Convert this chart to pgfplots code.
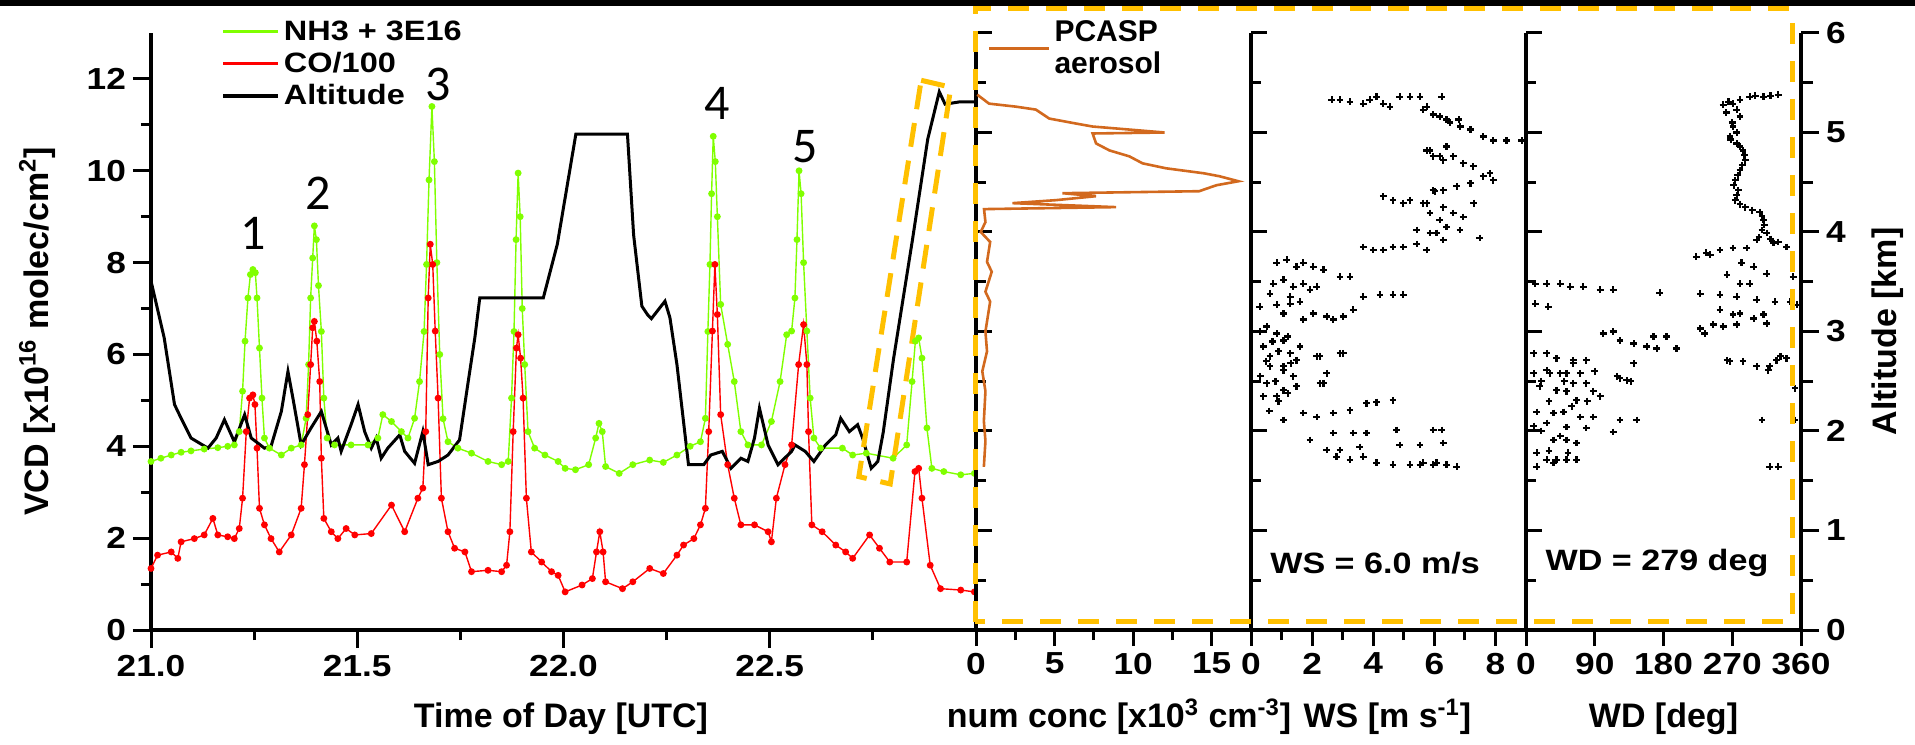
\documentclass[border=0pt]{standalone}
\usepackage{pgfplots}
\pgfplotsset{compat=1.18}
\usepackage{fontspec}
\setmainfont{Liberation Sans}
\newfontfamily\wideSans{Liberation Sans}[FakeStretch=1.16]
\newfontfamily\calib{Carlito}
\definecolor{nhgreen}{RGB}{128,255,0}
\definecolor{cored}{RGB}{255,0,0}
\definecolor{pcasp}{RGB}{210,105,30}
\definecolor{dashor}{RGB}{255,192,0}
\newcommand\tickfont{\wideSans\fontsize{15.2}{18}\selectfont\bfseries}
\newcommand\labfont{\fontsize{17}{20}\selectfont\bfseries}
\pgfplotsset{
  panel/.style={
    scale only axis, height=298.5pt, ymin=0,
    axis x line*=bottom, axis y line*=left,
    axis line style={line width=1.8pt},
    every tick/.style={black, line width=1.5pt},
    xtick align=outside,
    tick label style={font=\tickfont},
    /pgf/number format/assume math mode=true,
  },
  profile/.style={panel, width=137.5pt, ymax=6,
    ytick={0,...,6}, minor ytick={0.5,1.5,...,5.5}, yticklabels={},
    ytick align=inside, major tick length=8pt, minor tick length=5pt,
    every axis x label/.style={at={(axis description cs:0.5,-0.164)}, anchor=base, font=\labfont},
  },
}
\begin{document}
\begin{tikzpicture}
\path[use as bounding box] (0pt,0pt) rectangle (957.5pt,372pt);
\fill[black] (0pt,369.2pt) rectangle (957.5pt,372pt);
% ---------------- time series ----------------
\begin{axis}[panel, at={(75.5pt,57pt)}, anchor=south west, width=412.5pt,
  xmin=21, xmax=23, ymax=13,
  xtick={21,21.5,22,22.5}, xticklabels={21.0,21.5,22.0,22.5},
  minor xtick={21.25,21.75,22.25,22.75},
  ytick={0,2,...,12}, minor ytick={1,3,...,11},
  ytick align=outside, major tick length=9pt, minor tick length=5pt,
  xlabel={Time of Day [UTC]},
  ylabel={VCD [x10\textsuperscript{16} molec/cm\textsuperscript{2}]},
  every axis x label/.style={at={(axis description cs:0.497,-0.164)}, anchor=base, font=\labfont},
  every axis y label/.style={at={(axis description cs:-0.138,0.5)}, rotate=90, anchor=center, font=\labfont},
  clip=false,
  legend style={at={(axis description cs:0.078,1.035)}, anchor=north west, draw=none, fill=none,
    font=\wideSans\fontsize{14}{16}\selectfont\bfseries, row sep=0.5pt},
  legend cell align=left,
  legend image code/.code={\draw[#1, line width=1.6pt] (0pt,0pt) -- (27.5pt,0pt);},
]
\addplot[color=nhgreen, line width=0.7pt, mark=*, mark size=1.35pt] table {
t v
21.000 3.67
21.024 3.74
21.049 3.81
21.073 3.87
21.097 3.90
21.129 3.94
21.162 3.97
21.186 4.00
21.202 4.03
21.214 4.32
21.222 5.20
21.228 6.29
21.235 7.23
21.241 7.74
21.247 7.85
21.253 7.78
21.257 7.23
21.263 6.14
21.269 5.05
21.275 4.18
21.287 3.96
21.316 3.81
21.340 3.96
21.364 4.03
21.376 4.61
21.382 5.78
21.387 7.23
21.392 8.10
21.396 8.80
21.401 8.50
21.406 7.50
21.413 6.50
21.419 5.05
21.427 4.18
21.445 4.03
21.485 4.03
21.526 4.03
21.550 4.18
21.562 4.69
21.583 4.54
21.607 4.32
21.623 4.18
21.639 4.61
21.651 5.41
21.662 6.50
21.668 7.96
21.674 9.80
21.681 11.40
21.687 10.20
21.693 8.00
21.700 6.00
21.708 4.60
21.720 4.10
21.744 3.96
21.777 3.85
21.817 3.67
21.850 3.60
21.866 3.67
21.874 5.05
21.880 6.50
21.885 8.50
21.890 9.95
21.895 9.00
21.900 7.00
21.906 5.78
21.914 4.32
21.930 3.96
21.955 3.81
21.987 3.67
22.004 3.52
22.029 3.49
22.061 3.60
22.078 4.18
22.086 4.50
22.094 4.32
22.102 3.56
22.135 3.41
22.168 3.60
22.209 3.70
22.242 3.65
22.275 3.81
22.307 4.00
22.332 4.10
22.344 4.61
22.350 6.50
22.355 7.96
22.359 9.50
22.363 10.75
22.368 10.20
22.373 9.00
22.381 7.09
22.398 6.22
22.414 5.41
22.430 4.32
22.447 4.03
22.480 4.03
22.504 4.54
22.525 5.41
22.541 6.43
22.553 6.51
22.561 7.23
22.566 8.50
22.571 10.00
22.576 9.50
22.582 8.00
22.590 6.51
22.598 5.05
22.607 4.18
22.623 3.96
22.676 3.96
22.701 3.81
22.734 3.85
22.799 3.74
22.832 4.03
22.845 5.41
22.853 6.29
22.861 6.36
22.869 5.92
22.881 4.40
22.893 3.52
22.922 3.45
22.963 3.38
22.996 3.41
};
\addlegendentry{NH3 + 3E16}
\addplot[color=cored, line width=0.7pt, mark=*, mark size=1.35pt] table {
t v
21.000 1.34
21.016 1.63
21.049 1.70
21.065 1.56
21.073 1.92
21.105 1.99
21.129 2.07
21.150 2.43
21.162 2.07
21.186 2.03
21.202 1.99
21.214 2.21
21.222 2.87
21.231 4.32
21.239 5.05
21.247 5.12
21.252 4.91
21.257 3.96
21.263 2.65
21.275 2.29
21.291 1.99
21.311 1.70
21.340 2.07
21.364 2.65
21.372 3.60
21.380 4.69
21.387 5.78
21.392 6.58
21.396 6.72
21.402 6.29
21.409 5.41
21.413 3.74
21.419 2.43
21.437 2.14
21.453 1.99
21.473 2.21
21.494 2.07
21.534 2.10
21.583 2.72
21.615 2.14
21.647 2.87
21.659 3.09
21.666 4.32
21.672 7.23
21.677 8.40
21.683 7.96
21.689 6.51
21.696 5.05
21.704 2.87
21.720 2.14
21.736 1.78
21.761 1.70
21.777 1.27
21.817 1.30
21.850 1.27
21.862 1.41
21.870 2.14
21.878 4.32
21.886 6.14
21.890 6.43
21.896 5.92
21.902 5.05
21.910 2.87
21.922 1.70
21.947 1.48
21.971 1.27
21.987 1.19
22.004 0.83
22.045 0.98
22.070 1.12
22.080 1.70
22.088 2.14
22.096 1.70
22.102 1.05
22.143 0.90
22.168 1.05
22.209 1.34
22.242 1.23
22.275 1.63
22.291 1.85
22.316 1.99
22.332 2.29
22.344 2.65
22.352 4.32
22.361 6.51
22.367 7.96
22.373 6.87
22.381 4.69
22.398 3.60
22.414 2.87
22.430 2.29
22.463 2.29
22.496 2.14
22.504 1.92
22.516 2.87
22.537 3.60
22.553 4.03
22.570 5.78
22.582 6.65
22.590 5.78
22.594 4.32
22.602 2.29
22.627 2.14
22.660 1.85
22.684 1.70
22.701 1.56
22.742 2.07
22.766 1.78
22.791 1.48
22.832 1.48
22.852 3.45
22.861 3.52
22.869 2.87
22.889 1.41
22.914 0.90
22.963 0.87
22.996 0.83
};
\addlegendentry{CO/100}
\addplot[color=black, line width=1.5pt] table {
t v
21.000 7.60
21.032 6.36
21.057 4.91
21.073 4.61
21.097 4.18
21.138 3.96
21.158 4.18
21.178 4.58
21.202 4.10
21.227 4.69
21.243 4.18
21.275 3.96
21.291 4.00
21.316 4.76
21.332 5.63
21.344 5.05
21.364 4.03
21.388 4.40
21.413 4.76
21.437 4.03
21.453 4.18
21.461 3.89
21.485 4.47
21.502 4.91
21.518 4.32
21.534 3.96
21.546 4.18
21.558 3.74
21.574 3.96
21.603 4.25
21.615 3.89
21.639 3.63
21.659 4.32
21.672 3.60
21.696 3.67
21.720 3.81
21.748 4.14
21.769 5.41
21.785 6.36
21.797 7.23
21.951 7.23
21.985 8.40
22.030 10.80
22.155 10.80
22.170 8.60
22.190 7.05
22.205 6.85
22.213 6.78
22.246 7.16
22.258 6.80
22.275 5.78
22.303 3.60
22.340 3.60
22.357 3.81
22.385 3.89
22.406 3.52
22.430 3.74
22.447 3.67
22.463 4.18
22.475 4.83
22.496 4.03
22.520 3.60
22.553 3.89
22.561 4.03
22.586 3.89
22.607 3.67
22.635 4.03
22.660 4.25
22.672 4.61
22.693 4.32
22.713 4.47
22.725 4.18
22.746 3.52
22.762 3.67
22.775 4.30
22.800 5.90
22.846 8.50
22.883 10.69
22.911 11.72
22.925 11.45
22.960 11.50
23.000 11.50
};
\addlegendentry{Altitude}
\node[font=\calib\fontsize{25}{25}\selectfont] at (axis cs:21.248,8.64) {1};
\node[font=\calib\fontsize{25}{25}\selectfont] at (axis cs:21.405,9.52) {2};
\node[font=\calib\fontsize{25}{25}\selectfont] at (axis cs:21.696,11.87) {3};
\node[font=\calib\fontsize{25}{25}\selectfont] at (axis cs:22.373,11.46) {4};
\node[font=\calib\fontsize{25}{25}\selectfont] at (axis cs:22.585,10.52) {5};
\draw[dashor, line width=2.5pt, dash pattern=on 12pt off 7pt]
  (axis cs:22.867,11.97) -- (axis cs:22.939,11.82) -- (axis cs:22.792,3.18) -- (axis cs:22.716,3.34) -- cycle;
\end{axis}
% ---------------- PCASP ----------------
\begin{axis}[profile, at={(488pt,57pt)}, anchor=south west,
  xmin=0, xmax=17.5, xtick={0,5,10,15}, minor xtick={2.5,7.5,12.5},
  xlabel={num conc [x10\textsuperscript{3} cm\textsuperscript{-3}]},
  every axis x label/.style={at={(axis description cs:0.52,-0.164)}, anchor=base, font=\labfont},
  legend style={at={(axis description cs:0.02,1.035)}, anchor=north west, draw=none, fill=none,
    font=\fontsize{15}{16}\selectfont\bfseries, cells={align=left}},
  legend image code/.code={\draw[#1] (0pt,0pt) -- (30pt,0pt);},
]
\addplot[color=pcasp, line width=1.3pt] table {
c a
0.08 5.38
0.83 5.29
2.53 5.26
3.81 5.23
4.66 5.14
6.36 5.09
7.42 5.06
12.0 5.00
7.42 4.99
7.64 4.89
8.49 4.82
9.76 4.76
10.6 4.69
12.1 4.64
14.5 4.59
15.5 4.56
16.7 4.51
15.3 4.47
14.2 4.41
5.5 4.39
7.64 4.36
5.08 4.32
2.32 4.29
8.91 4.25
0.51 4.23
0.6 4.10
0.3 4.00
0.9 3.90
0.7 3.70
1.0 3.60
0.6 3.40
0.9 3.30
0.6 3.00
0.7 2.80
0.4 2.60
0.6 2.40
0.5 2.10
0.6 1.90
0.5 1.64
};
\addlegendentry{PCASP\\aerosol}
\end{axis}
% ---------------- WS ----------------
\begin{axis}[profile, at={(625.5pt,57pt)}, anchor=south west,
  xmin=0, xmax=9, xtick={0,2,4,6,8}, minor xtick={1,3,5,7},
  xlabel={WS [m s\textsuperscript{-1}]},
  every axis x label/.style={at={(axis description cs:0.496,-0.164)}, anchor=base, font=\labfont},
]
\addplot[only marks, mark=+, mark size=1.7pt, mark options={line width=1.1pt}, black] table {
w a
2.64 5.33
2.91 5.33
3.24 5.31
3.67 5.29
3.89 5.33
4.11 5.36
4.33 5.29
4.55 5.26
4.87 5.36
5.20 5.36
5.53 5.36
6.24 5.36
5.64 5.23
5.75 5.26
5.96 5.18
6.18 5.16
6.40 5.13
6.51 5.10
6.80 5.13
6.85 5.06
7.18 5.03
7.60 4.96
7.93 4.92
8.36 4.92
8.86 4.92
5.75 4.82
5.86 4.82
5.96 4.76
6.18 4.76
6.29 4.72
6.40 4.86
6.62 4.76
6.95 4.69
7.27 4.66
7.60 4.56
7.82 4.59
7.93 4.52
7.18 4.49
6.73 4.46
6.02 4.41
5.96 4.42
6.29 4.42
4.33 4.36
4.65 4.32
4.98 4.29
5.20 4.32
5.64 4.29
5.75 4.29
6.29 4.25
6.62 4.19
6.95 4.15
7.29 4.29
5.86 4.19
6.18 4.12
6.40 4.05
6.07 3.99
6.84 4.02
7.49 3.94
5.42 4.02
5.86 3.99
6.29 3.92
3.67 3.85
4.00 3.82
4.33 3.82
4.65 3.85
4.98 3.85
5.42 3.88
5.75 3.82
0.84 3.69
1.17 3.72
1.49 3.65
1.71 3.69
2.04 3.65
2.37 3.62
0.73 3.48
1.06 3.52
1.38 3.45
1.71 3.48
2.15 3.45
0.62 3.38
1.28 3.35
1.93 3.42
2.91 3.55
3.24 3.55
3.67 3.35
4.22 3.37
4.65 3.37
4.98 3.37
0.29 3.25
0.84 3.27
1.28 3.28
1.60 3.30
2.04 3.18
2.48 3.15
2.69 3.12
3.02 3.15
3.35 3.22
1.06 3.18
1.71 3.12
0.51 3.05
0.84 2.98
1.06 2.91
0.40 2.85
1.28 2.78
1.60 2.85
0.62 2.65
1.06 2.61
1.49 2.71
2.15 2.75
2.91 2.78
0.51 2.48
1.06 2.41
1.49 2.45
2.37 2.48
0.84 2.35
0.62 2.75
1.06 2.65
1.38 2.55
0.40 2.35
2.26 2.48
1.71 2.18
2.15 2.14
2.69 2.18
3.24 2.21
3.78 2.28
4.11 2.29
4.65 2.31
1.06 2.11
1.93 1.91
2.48 1.81
2.80 1.74
3.24 1.71
3.67 1.74
4.11 1.68
4.65 1.66
5.20 1.66
5.64 1.68
6.07 1.68
2.69 1.98
3.35 1.98
3.78 1.98
4.76 2.01
4.87 1.86
5.53 1.86
5.96 2.01
3.56 1.84
2.91 1.81
5.53 1.66
5.96 1.66
6.40 1.66
6.73 1.64
6.24 2.01
6.29 1.88
2.26 2.75
2.48 2.58
3.02 2.78
0.30 3.00
0.70 2.90
1.20 2.95
0.50 2.70
0.90 2.80
1.30 2.68
0.30 2.55
0.80 2.50
1.20 2.38
0.60 2.20
0.90 2.30
};
\node[font=\wideSans\fontsize{14.7}{16}\selectfont\bfseries] at (axis cs:4.06,0.67) {WS = 6.0 m/s};
\end{axis}
% ---------------- WD ----------------
\begin{axis}[profile, at={(763pt,57pt)}, anchor=south west,
  xmin=0, xmax=360, xtick={0,90,180,270,360},
  xlabel={WD [deg]},
]
\addplot[only marks, mark=+, mark size=1.7pt, mark options={line width=1.1pt}, black] table {
d a
330 5.38
311 5.36
293 5.36
280 5.33
271 5.29
258 5.28
276 5.23
280 5.16
271 5.06
267 4.96
276 4.89
284 4.82
287 4.72
280 4.62
274 4.52
278 4.42
274 4.32
287 4.25
306 4.20
311 4.12
309 4.02
315 3.99
302 3.92
324 3.89
341 3.85
289 3.84
271 3.84
254 3.82
236 3.79
223 3.75
241 3.77
282 3.69
298 3.65
315 3.58
263 3.57
280 3.48
293 3.48
350 3.55
228 3.38
254 3.37
276 3.35
302 3.32
326 3.30
346 3.30
355 3.27
254 3.22
271 3.17
280 3.18
298 3.13
311 3.17
245 3.07
258 3.05
276 3.07
315 3.08
228 3.03
234 2.98
300 5.37
320 5.37
265 5.31
262 5.20
270 5.10
276 5.00
268 4.93
280 4.86
286 4.77
283 4.67
277 4.57
272 4.47
276 4.37
280 4.28
296 4.22
309 4.16
312 4.07
305 3.95
320 3.93
330 3.90
12 3.48
27 3.48
45 3.48
58 3.45
75 3.45
97 3.42
114 3.42
175 3.39
12 3.28
29 3.25
101 2.98
114 3.00
123 2.91
141 2.88
158 2.85
167 2.95
184 2.95
197 2.83
171 2.83
10 2.78
27 2.78
40 2.73
62 2.71
79 2.71
10 2.58
31 2.58
53 2.58
71 2.58
119 2.55
132 2.51
141 2.68
263 2.71
284 2.70
302 2.65
319 2.65
333 2.75
341 2.73
27 2.61
45 2.58
62 2.68
18 2.45
40 2.41
62 2.48
79 2.48
53 2.40
66 2.31
88 2.40
97 2.35
14 2.19
36 2.18
49 2.19
71 2.14
88 2.14
27 2.08
53 2.04
79 2.03
114 1.99
36 1.91
53 1.91
66 1.88
14 1.78
27 1.71
40 1.71
53 1.71
66 1.71
14 1.64
36 1.68
123 2.11
145 2.11
309 2.11
267 2.70
317 2.61
328 2.71
319 1.64
330 1.64
352 2.43
352 2.11
123 2.53
137 2.50
20 2.00
45 1.95
30 2.30
60 2.25
80 2.30
20 2.50
50 2.50
90 2.60
10 2.05
30 1.80
55 1.78
};
\node[font=\wideSans\fontsize{14.7}{16}\selectfont\bfseries] at (axis cs:171.5,0.67) {WD = 279 deg};
\end{axis}
% ---------------- altitude axis ----------------
\begin{axis}[scale only axis, at={(763pt,57pt)}, anchor=south west, width=137.5pt, height=298.5pt,
  xmin=0, xmax=1, ymin=0, ymax=6, axis x line=none, axis y line*=right,
  axis line style={line width=1.8pt},
  every tick/.style={black, line width=1.5pt},
  ytick={0,...,6}, minor ytick={0.5,1.5,...,5.5}, ytick align=outside,
  major tick length=9pt, minor tick length=6pt,
  tick label style={font=\tickfont},
  /pgf/number format/assume math mode=true,
  ylabel={Altitude [km]},
  every axis y label/.style={at={(axis description cs:1.316,0.5)}, rotate=90, anchor=center, font=\labfont},
]
\end{axis}
\draw[dashor, line width=2.5pt, dash pattern=on 10.5pt off 8.5pt] (487.5pt,61pt) rectangle (896pt,367.5pt);
\end{tikzpicture}
\end{document}
